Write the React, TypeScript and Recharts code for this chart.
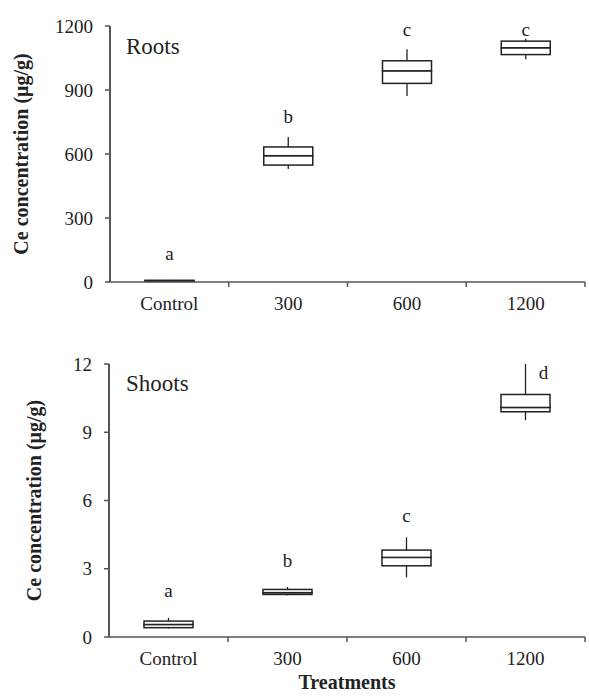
import React from 'react';
import { ComposedChart, Bar, Scatter, XAxis, YAxis, Label, Customized } from 'recharts';

const categories = ['Control', '300', '600', '1200'];

const rootsMin = [2, 530, 872, 1044];
const rootsQ1 = [3, 548, 931, 1066];
const rootsMedian = [5, 592, 990, 1098];
const rootsQ3 = [8, 633, 1037, 1129];
const rootsMax = [10, 680, 1091, 1140];
const rootsLetters = ['a', 'b', 'c', 'c'];
const rootsLetterY = [136, 775, 1183, 1183];
const rootsTicks = [0, 300, 600, 900, 1200];

const shootsMin = [0.38, 1.83, 2.62, 9.53];
const shootsQ1 = [0.41, 1.87, 3.13, 9.9];
const shootsMedian = [0.55, 1.95, 3.5, 10.09];
const shootsQ3 = [0.7, 2.09, 3.82, 10.66];
const shootsMax = [0.84, 2.2, 4.38, 12.0];
const shootsLetters = ['a', 'b', 'c', 'd'];
const shootsLetterY = [2.05, 3.37, 5.35, 11.65];
const shootsTicks = [0, 3, 6, 9, 12];

const FONT = '"Liberation Serif", "Times New Roman", serif';
const INK = '#222';
const AXIS = '#555';
const CHART_W = 589;
const TICK_MARGIN = 15;

function build(mins: number[], q1: number[], med: number[], q3: number[], max: number[], letters: string[], letterY: number[]) {
  return categories.map((c, i) => ({
    name: c,
    base: mins[i],
    wLow: q1[i] - mins[i],
    bLow: med[i] - q1[i],
    bHigh: q3[i] - med[i],
    wHigh: max[i] - q3[i],
    letter: letters[i],
    letterY: letterY[i],
    max: max[i],
  }));
}

const rootsData = build(rootsMin, rootsQ1, rootsMedian, rootsQ3, rootsMax, rootsLetters, rootsLetterY);
const shootsData = build(shootsMin, shootsQ1, shootsMedian, shootsQ3, shootsMax, shootsLetters, shootsLetterY);

const Whisker = (p: any) => {
  const cx = p.x + p.width / 2;
  return <line x1={cx} x2={cx} y1={p.y} y2={p.y + p.height} stroke={INK} strokeWidth={1.3} />;
};

const BoxPart = (p: any) => (
  <rect x={p.x} y={p.y} width={p.width} height={Math.max(p.height, 0.5)} fill="#fff" stroke={INK} strokeWidth={1.5} />
);

const LetterShape = (p: any) => {
  const dx = p.payload.letterY < p.payload.max ? 18 : 0;
  return (
    <text x={p.cx + dx} y={p.cy} dy="0.35em" textAnchor="middle" fontFamily={FONT} fontSize={19} fill={INK}>
      {p.payload.letter}
    </text>
  );
};

const makeTick = (band: number) => (p: any) => {
  const axisY = p.y - TICK_MARGIN;
  const bx = p.x + band / 2;
  return (
    <g>
      <line x1={bx} x2={bx} y1={axisY} y2={axisY + 5} stroke={AXIS} strokeWidth={1.5} />
      <text x={p.x} y={p.y} dy="0.71em" textAnchor="middle" fontFamily={FONT} fontSize={19} fill={INK}>
        {p.payload.value}
      </text>
    </g>
  );
};

type PanelProps = {
  data: any[];
  ticks: number[];
  height: number;
  margin: any;
  yWidth: number;
  labelX: number;
  title: string;
  titleY: number;
  xLabel?: string;
};

function Panel({ data, ticks, height, margin, yWidth, labelX, title, titleY, xLabel }: PanelProps) {
  const dmax = ticks[ticks.length - 1];
  const band = (CHART_W - margin.left - margin.right - yWidth) / categories.length;
  return (
    <ComposedChart width={CHART_W} height={height} data={data} margin={margin}>
      <XAxis
        xAxisId="cat"
        dataKey="name"
        height={30}
        tickLine={false}
        tickSize={0}
        tickMargin={TICK_MARGIN}
        axisLine={{ stroke: AXIS, strokeWidth: 1.5 }}
        tick={makeTick(band)}
        interval={0}
      >
        {xLabel ? (
          <Label
            content={(props: any) => {
              const vb = props.viewBox;
              return (
                <text
                  x={vb.x + vb.width / 2}
                  y={vb.y + 45}
                  dy="0.35em"
                  textAnchor="middle"
                  fontFamily={FONT}
                  fontWeight="bold"
                  fontSize={20}
                  fill={INK}
                >
                  {xLabel}
                </text>
              );
            }}
          />
        ) : null}
      </XAxis>
      <YAxis
        width={yWidth}
        domain={[0, dmax]}
        ticks={ticks}
        tickSize={5}
        tickMargin={12}
        axisLine={{ stroke: AXIS, strokeWidth: 2 }}
        tickLine={{ stroke: AXIS, strokeWidth: 1.5 }}
        tick={{ fontFamily: FONT, fontSize: 19, fill: INK }}
      >
        <Label
          content={(props: any) => {
            const vb = props.viewBox;
            const cy = vb.y + vb.height / 2;
            return (
              <text
                x={labelX}
                y={cy}
                transform={`rotate(-90, ${labelX}, ${cy})`}
                textAnchor="middle"
                fontFamily={FONT}
                fontWeight="bold"
                fontSize={20}
                fill={INK}
              >
                Ce concentration (μg/g)
              </text>
            );
          }}
        />
      </YAxis>
      <Bar xAxisId="cat" dataKey="base" stackId="b" fill="none" barSize={49} isAnimationActive={false} />
      <Bar xAxisId="cat" dataKey="wLow" stackId="b" barSize={49} shape={Whisker} isAnimationActive={false} />
      <Bar xAxisId="cat" dataKey="bLow" stackId="b" barSize={49} shape={BoxPart} isAnimationActive={false} />
      <Bar xAxisId="cat" dataKey="bHigh" stackId="b" barSize={49} shape={BoxPart} isAnimationActive={false} />
      <Bar xAxisId="cat" dataKey="wHigh" stackId="b" barSize={49} shape={Whisker} isAnimationActive={false} />
      <Scatter xAxisId="cat" dataKey="letterY" shape={LetterShape} isAnimationActive={false} />
      <Customized
        component={() => (
          <text x={126} y={titleY} dy="0.35em" fontFamily={FONT} fontSize={23} fill={INK}>
            {title}
          </text>
        )}
      />
    </ComposedChart>
  );
}

export default function App() {
  return (
    <div style={{ position: 'absolute', left: 0, top: 0, width: 589, height: 700, background: '#fff' }}>
      <Panel
        data={rootsData}
        ticks={rootsTicks}
        height={330}
        margin={{ top: 26, right: 4, bottom: 18, left: 0 }}
        yWidth={110}
        labelX={28}
        title="Roots"
        titleY={46}
      />
      <Panel
        data={shootsData}
        ticks={shootsTicks}
        height={370}
        margin={{ top: 34, right: 4, bottom: 33, left: 0 }}
        yWidth={109}
        labelX={41}
        title="Shoots"
        titleY={53}
        xLabel="Treatments"
      />
    </div>
  );
}
